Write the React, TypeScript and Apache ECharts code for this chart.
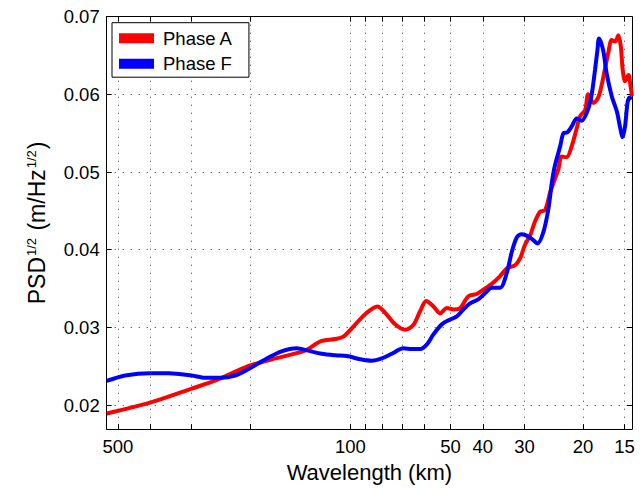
import React, { useEffect, useRef } from "react";
import * as echarts from "echarts";

// Wavelength (km) and PSD^1/2 values
const wavelengthA = [540, 400, 300, 250, 203, 172, 137, 123, 111, 105, 98, 90.3, 83, 78.7, 73.4, 68.5, 64.7, 61.7, 59.2, 56.3, 53.8, 51.3, 49, 46.8, 44.2, 41.7, 39.4, 37.6, 35.5, 33.9, 32, 30.9, 29.9, 28.8, 27.9, 26.9, 26.0, 25.1, 24.3, 23.7, 23.2, 22.4, 21.6, 20.9, 20.4, 19.7, 19.3, 18.6, 18.0, 17.6, 17.2, 16.8, 16.4, 16.0, 15.66, 15.4, 15.2, 14.95, 14.6, 14.4, 14.25];
const phaseA = [0.0189, 0.0203, 0.0221, 0.0233, 0.0250, 0.0259, 0.0270, 0.0282, 0.0285, 0.0288, 0.0301, 0.0317, 0.0327, 0.0319, 0.0304, 0.0297, 0.0303, 0.0321, 0.0334, 0.0327, 0.0318, 0.0325, 0.0323, 0.0325, 0.0340, 0.0343, 0.0350, 0.0356, 0.0366, 0.0376, 0.0380, 0.0389, 0.0406, 0.0419, 0.0436, 0.0449, 0.0451, 0.0474, 0.0491, 0.0504, 0.0520, 0.0519, 0.0534, 0.0556, 0.0572, 0.0580, 0.0600, 0.0589, 0.0596, 0.0611, 0.0632, 0.0653, 0.0670, 0.0668, 0.0676, 0.0662, 0.0632, 0.0617, 0.0625, 0.0611, 0.0598];

const wavelengthF = [540, 475, 400, 352, 300, 273, 246, 222, 203, 180, 161, 145, 134, 122, 111, 102.5, 93.5, 86.3, 80.5, 75.1, 69.3, 65.4, 61.7, 58.9, 56.3, 53.1, 50.8, 47.9, 45.8, 43.7, 41.3, 39.4, 37.6, 35.5, 33.9, 32.7, 31.6, 30.6, 29.9, 28.5, 27.4, 26.3, 25.4, 24.8, 24.3, 23.4, 22.9, 22.3, 21.6, 20.9, 20.2, 19.3, 18.8, 18.4, 18.1, 17.9, 17.4, 17.0, 16.4, 15.8, 15.5, 15.2, 14.95, 14.7, 14.5, 14.25];
const phaseF = [0.0231, 0.0238, 0.0241, 0.0241, 0.0238, 0.0235, 0.0235, 0.0238, 0.0246, 0.0259, 0.0269, 0.0273, 0.0270, 0.0266, 0.0264, 0.0263, 0.0259, 0.0257, 0.0260, 0.0266, 0.0273, 0.0272, 0.0272, 0.0278, 0.0291, 0.0304, 0.0309, 0.0314, 0.0323, 0.0331, 0.0336, 0.0344, 0.0351, 0.0351, 0.0370, 0.0398, 0.0416, 0.0420, 0.0419, 0.0414, 0.0408, 0.0423, 0.0453, 0.0487, 0.0508, 0.0534, 0.0550, 0.0551, 0.0559, 0.0569, 0.0566, 0.0581, 0.0602, 0.0632, 0.0657, 0.0672, 0.0657, 0.0628, 0.0598, 0.0577, 0.0559, 0.0545, 0.0559, 0.0589, 0.0596, 0.0594];

const xTickLabels = [500, 100, 50, 40, 30, 20, 15];
const xGridValues = [500, 400, 300, 200, 100, 90, 80, 70, 60, 50, 40, 30, 20, 15];
const yTicks = [0.02, 0.03, 0.04, 0.05, 0.06, 0.07];
const xRange = [14.25, 540];
const yRange = [0.0169, 0.07];

const FONT = "'Liberation Sans', Arial, Helvetica, sans-serif";

export default function App() {
  const ref = useRef<HTMLDivElement>(null);

  useEffect(() => {
    if (!ref.current) return;
    const chart = echarts.init(ref.current, null, { renderer: "svg" });
    const lg = (v: number) => Math.log10(v);
    const gridLine = { show: true, lineStyle: { color: "#333", width: 1, type: [1, 7] } };
    const xCommon = {
      type: "value",
      inverse: true,
      min: lg(xRange[0]),
      max: lg(xRange[1]),
      axisLine: { show: true, onZero: false, lineStyle: { color: "#000", width: 1 } },
      axisTick: { show: true, inside: true, length: 5, customValues: xGridValues.map(lg), lineStyle: { color: "#000" } },
      splitLine: gridLine,
    };
    const yCommon = {
      type: "value",
      min: yRange[0],
      max: yRange[1],
      axisLine: { show: true, onZero: false, lineStyle: { color: "#000", width: 1 } },
      axisTick: { show: true, inside: true, length: 5, customValues: yTicks, lineStyle: { color: "#000" } },
      splitLine: gridLine,
    };
    chart.setOption({
      animation: false,
      textStyle: { fontFamily: FONT },
      grid: { left: 106.7, right: 12, top: 16.7, bottom: 56.3, containLabel: false },
      legend: {
        orient: "vertical",
        left: 112,
        top: 22.7,
        icon: "rect",
        itemWidth: 35,
        itemHeight: 10,
        itemGap: 6.5,
        padding: [6, 16, 4, 7],
        backgroundColor: "#fff",
        borderColor: "#000",
        borderWidth: 1,
        borderRadius: 0,
        textStyle: { fontSize: 18.5, color: "#000", fontFamily: FONT, padding: [0, 0, 0, 4] },
        data: ["Phase A", "Phase F"],
      },
      xAxis: [
        {
          ...xCommon,
          position: "bottom",
          name: "Wavelength (km)",
          nameLocation: "middle",
          nameGap: 30,
          nameTextStyle: { fontSize: 22, color: "#000", fontFamily: FONT },
          axisLabel: {
            show: true,
            margin: 8,
            fontSize: 18.5,
            color: "#000",
            fontFamily: FONT,
            customValues: xTickLabels.map(lg),
            formatter: (v: number) => String(Math.round(Math.pow(10, v))),
          },
        },
        { ...xCommon, position: "top", axisLabel: { show: false }, splitLine: { show: false } },
      ],
      yAxis: [
        {
          ...yCommon,
          position: "left",
          name: "{b|PSD}{s|1/2}{b| (m/Hz}{s|1/2}{b|)}",
          nameLocation: "middle",
          nameGap: 58,
          nameTextStyle: {
            color: "#000",
            fontFamily: FONT,
            fontSize: 23,
            rich: {
              b: { fontSize: 23, fontFamily: FONT, color: "#000", verticalAlign: "bottom", lineHeight: 26 },
              s: { fontSize: 13, fontFamily: FONT, color: "#000", verticalAlign: "top", lineHeight: 14, padding: [2, 1, 0, 1] },
            },
          },
          axisLabel: {
            show: true,
            margin: 7,
            fontSize: 18.5,
            color: "#000",
            fontFamily: FONT,
            customValues: yTicks,
            formatter: (v: number) => v.toFixed(2),
          },
        },
        { ...yCommon, position: "right", axisLabel: { show: false }, splitLine: { show: false } },
      ],
      series: [
        {
          name: "Phase A",
          type: "line",
          xAxisIndex: 0,
          yAxisIndex: 0,
          data: wavelengthA.map((w, i) => [lg(w), phaseA[i]]),
          showSymbol: false,
          symbol: "none",
          smooth: 0.3,
          lineStyle: { color: "#ff0000", width: 4 },
          itemStyle: { color: "#ff0000" },
          z: 3,
        },
        {
          name: "Phase F",
          type: "line",
          xAxisIndex: 0,
          yAxisIndex: 0,
          data: wavelengthF.map((w, i) => [lg(w), phaseF[i]]),
          showSymbol: false,
          symbol: "none",
          smooth: 0.3,
          lineStyle: { color: "#0000ff", width: 4 },
          itemStyle: { color: "#0000ff" },
          z: 4,
        },
      ],
    });
    return () => chart.dispose();
  }, []);

  return (
    <div
      ref={ref}
      style={{ position: "fixed", left: 0, top: 0, width: 644, height: 488, background: "#fff" }}
    />
  );
}
